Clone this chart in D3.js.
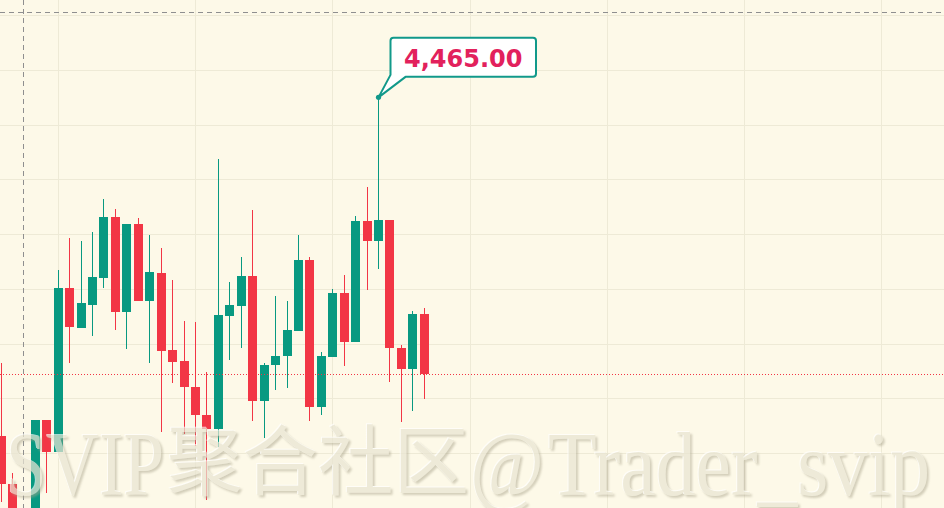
<!DOCTYPE html>
<html><head><meta charset="utf-8">
<script src="https://cdn.jsdelivr.net/npm/d3@7"></script>
<style>html,body{margin:0;padding:0;background:#fdf9e8;overflow:hidden}</style>
</head><body><svg id="c" width="944" height="508"></svg>
<script>
// ---- data (one candle per index) ----
const opens  = [4403.0,4394.3,4386.0,4385.0,4406.0,4400.2,4430.2,4422.9,4427.0,4432.0,4443.2,4425.8,4441.9,4427.8,4432.8,4418.8,4416.8,4412.0,4407.0,4404.3,4425.1,4426.9,4432.3,4409.5,4416.0,4417.8,4422.3,4435.3,4408.3,4417.6,4429.2,4420.2,4442.4,4438.8,4442.6,4419.2,4415.3,4425.4];
const highs  = [4416.4,4396.3,4389.5,4406.0,4406.0,4433.4,4439.2,4438.7,4440.4,4446.4,4444.6,4441.9,4443.0,4439.8,4437.4,4431.6,4424.1,4424.0,4414.8,4453.7,4431.3,4435.9,4444.4,4416.5,4428.7,4427.8,4439.8,4435.9,4418.4,4429.9,4432.5,4443.4,4448.7,4465.0,4442.6,4419.7,4426.0,4426.4];
const lows   = [4391.0,4382.0,4380.0,4383.0,4392.6,4400.2,4416.4,4422.9,4421.4,4430.2,4422.5,4419.0,4427.8,4416.4,4403.9,4412.7,4403.5,4401.3,4391.4,4401.0,4417.0,4419.2,4405.9,4402.8,4411.5,4411.9,4422.3,4405.8,4406.9,4417.6,4415.9,4420.2,4429.7,4433.6,4412.9,4405.7,4407.7,4409.9];
const closes = [4394.3,4386.0,4384.0,4406.0,4400.2,4430.2,4423.0,4427.4,4432.1,4443.2,4425.8,4441.9,4427.8,4433.1,4418.7,4416.7,4412.1,4406.9,4404.3,4425.2,4427.0,4432.3,4409.5,4416.1,4417.8,4422.5,4435.3,4408.3,4417.7,4429.2,4420.2,4442.4,4438.8,4442.6,4419.1,4415.3,4425.4,4414.4];
const gridPrices = [4390,4400,4410,4420,4430,4440,4450,4460,4470,4480];
const gridIndices = [5,17,29,41,53,65,77];
const crosshairIndex = 2;
const crosshairPrice = 4480.6;
const markerIndex = 33;          // candle carrying the labelled high
const markerLabel = "4,465.00";
const watermark = ["SVIP","聚合社区","@","Trader_svip"];

// ---- drawing ----
const W = 944, H = 508;
const svg = d3.select("#c");
const x = d3.scaleLinear().domain([0, 80]).range([0.5, 0.5 + 11.44 * 80]);
const y = d3.scaleLinear().domain([4390, 4480]).range([507.6, 15.3]);
const GREEN = "#089981", RED = "#f23645";
const candles = opens.map((o, i) => ({i, o, h: highs[i], l: lows[i], c: closes[i]}));

svg.append("rect").attr("width", W).attr("height", H).attr("fill", "#fdf9e8");

const grid = svg.append("g").attr("stroke", "#eeead6").attr("stroke-width", 1);
grid.selectAll("line.h").data(gridPrices).join("line").attr("class","h")
  .attr("x1", 0).attr("x2", W)
  .attr("y1", d => Math.round(y(d)) + 0.5).attr("y2", d => Math.round(y(d)) + 0.5);
grid.selectAll("line.v").data(gridIndices).join("line").attr("class","v")
  .attr("y1", 0).attr("y2", H)
  .attr("x1", d => Math.round(x(d)) + 0.5).attr("x2", d => Math.round(x(d)) + 0.5);

// crosshair
const ch = svg.append("g").attr("stroke", "#8f8f8f").attr("stroke-width", 1).attr("stroke-dasharray", "5,4");
ch.append("line").attr("x1", 0).attr("x2", W)
  .attr("y1", Math.round(y(crosshairPrice)) + 0.5).attr("y2", Math.round(y(crosshairPrice)) + 0.5);
ch.append("line").attr("y1", 0).attr("y2", H)
  .attr("x1", Math.round(x(crosshairIndex)) + 0.5).attr("x2", Math.round(x(crosshairIndex)) + 0.5);

// candles
const bw = 9;
const cg = svg.append("g").attr("shape-rendering", "crispEdges")
  .selectAll("g").data(candles).join("g")
  .attr("fill", d => d.c >= d.o ? GREEN : RED);
cg.append("rect")
  .attr("x", d => Math.round(x(d.i))).attr("width", 1)
  .attr("y", d => Math.round(y(d.h))).attr("height", d => Math.max(1, Math.round(y(d.l)) - Math.round(y(d.h))));
cg.append("rect")
  .attr("x", d => Math.round(x(d.i)) - (bw - 1) / 2).attr("width", bw)
  .attr("y", d => Math.round(y(Math.max(d.o, d.c))))
  .attr("height", d => Math.max(1, Math.round(y(Math.min(d.o, d.c))) - Math.round(y(Math.max(d.o, d.c)))));

// last price line
const last = closes[closes.length - 1];
svg.append("line").attr("x1", 0).attr("x2", W)
  .attr("y1", Math.round(y(last)) + 0.5).attr("y2", Math.round(y(last)) + 0.5)
  .attr("stroke", RED).attr("stroke-width", 1).attr("stroke-dasharray", "1,2");

// callout for the high
const mx = Math.round(x(markerIndex)) + 0.5, my = y(highs[markerIndex]);
const L = mx + 12, R = mx + 157.5, T = my - 59.5, B = my - 20.5, r = 3;
const path = `M${L + r},${T} H${R - r} Q${R},${T} ${R},${T + r} V${B - r} Q${R},${B} ${R - r},${B}` +
  ` H${L + 15} L${mx},${my} L${L},${B - 2} V${T + r} Q${L},${T} ${L + r},${T} Z`;
svg.append("path").attr("d", path).attr("fill", "#ffffff")
  .attr("stroke", "#11998a").attr("stroke-width", 2).attr("stroke-linejoin", "round");
svg.append("circle").attr("cx", mx).attr("cy", my).attr("r", 2.6).attr("fill", "#11998a");
svg.append("text").attr("x", (L + R) / 2).attr("y", T + 29.5)
  .attr("text-anchor", "middle").attr("fill", "#e2215c")
  .attr("font-family", "DejaVu Sans, sans-serif").attr("font-weight", "bold").attr("font-size", 24)
  .text(markerLabel);

// watermark
const defs = svg.append("defs");
const f = defs.append("filter").attr("id", "emb").attr("x", "-5%").attr("y", "-20%").attr("width", "110%").attr("height", "140%");
f.append("feOffset").attr("in", "SourceAlpha").attr("dx", 1.6).attr("dy", 1.8).attr("result", "o1");
f.append("feGaussianBlur").attr("in", "o1").attr("stdDeviation", 1.3).attr("result", "b1");
f.append("feFlood").attr("flood-color", "#a9a38b").attr("flood-opacity", 0.7).attr("result", "c1");
f.append("feComposite").attr("in", "c1").attr("in2", "b1").attr("operator", "in").attr("result", "sh");
f.append("feOffset").attr("in", "SourceAlpha").attr("dx", -1).attr("dy", -1).attr("result", "o2");
f.append("feFlood").attr("flood-color", "#ffffff").attr("flood-opacity", 0.9).attr("result", "c2");
f.append("feComposite").attr("in", "c2").attr("in2", "o2").attr("operator", "in").attr("result", "hl");
const m = f.append("feMerge");
m.append("feMergeNode").attr("in", "sh");
m.append("feMergeNode").attr("in", "hl");
m.append("feMergeNode").attr("in", "SourceGraphic");

const wm = svg.append("g").attr("filter", "url(#emb)").attr("opacity", 0.72).attr("fill", "#e9e5d3");
const segs = [
  {t: watermark[0], x: 6,   len: 158, font: "Liberation Serif, serif", size: 90, base: 495, w: "normal"},
  {t: watermark[1], x: 167, len: 302, font: "Noto Sans CJK SC, sans-serif", size: 76, base: 489, w: "normal"},
  {t: watermark[2], x: 470, len: 74,  font: "Liberation Serif, serif", size: 90, base: 495, w: "normal"},
  {t: watermark[3], x: 548, len: 382, font: "Liberation Serif, serif", size: 90, base: 495, w: "normal"}
];
wm.selectAll("text").data(segs).join("text")
  .attr("x", d => d.x).attr("y", d => d.base)
  .attr("font-family", d => d.font).attr("font-size", d => d.size).attr("font-weight", d => d.w)
  .attr("textLength", d => d.len).attr("lengthAdjust", "spacingAndGlyphs")
  .text(d => d.t);
</script></body></html>
